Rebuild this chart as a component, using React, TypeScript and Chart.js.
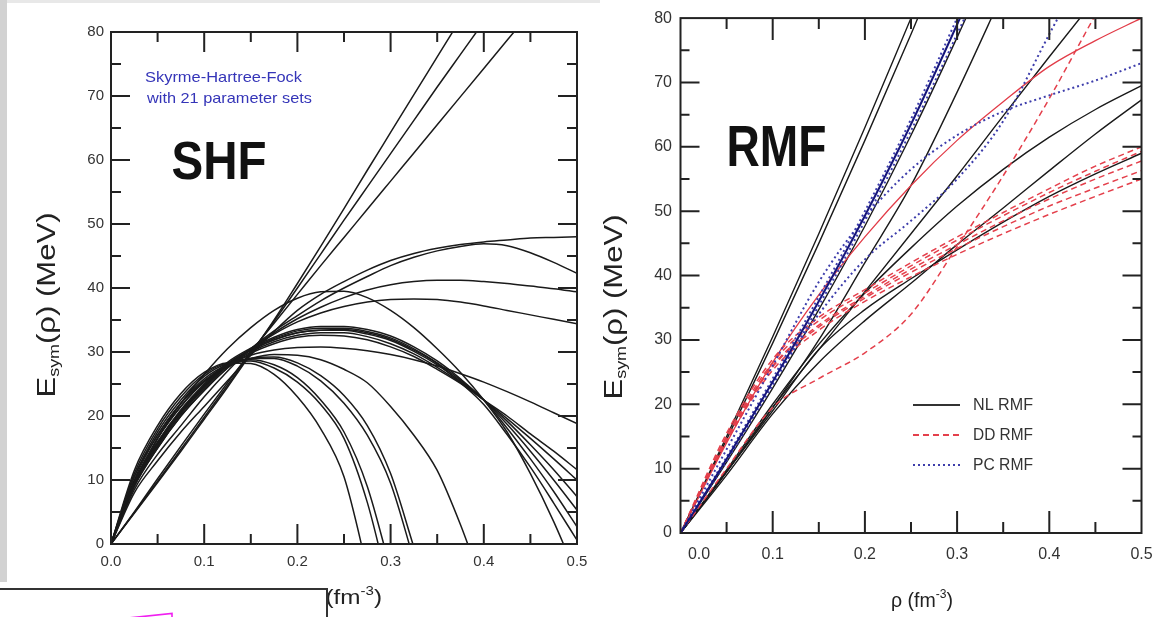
import React, { useEffect, useRef } from "react";
import { Chart, registerables } from "chart.js";
Chart.register(...registerables);

// ---------- SHF panel data (rho grid in fm^-3, Esym in MeV) ----------
const SHF_RHO = [0, 0.025, 0.05, 0.075, 0.1, 0.125, 0.15, 0.175, 0.2, 0.225, 0.25, 0.275, 0.3, 0.325, 0.35, 0.375, 0.4, 0.425, 0.45, 0.475, 0.5];
const SHF_S1 = [0, 4.8, 9.6, 14.5, 19.5, 24.5, 29.7, 35, 40.7, 46.5, 52.4, 58.4, 64.3, 70.2, 76.1, 82];
const SHF_S2 = [0, 4.9, 9.8, 14.8, 19.8, 24.8, 29.8, 34.8, 40, 45.3, 50.6, 55.8, 61, 66.2, 71.4, 76.5, 81.6];
const SHF_S3 = [0, 5, 10.2, 15.3, 20.3, 25.2, 30, 34.5, 39, 43.5, 47.9, 52.3, 56.7, 61.1, 65.5, 69.9, 74.3, 78.7, 83.1];
const SHF_C48 = [0, 8, 13, 17.5, 21.5, 25.5, 29.5, 33.2, 36.5, 39, 41, 42.8, 44.3, 45.4, 46.2, 46.8, 47.2, 47.5, 47.8, 47.9, 48];
const SHF_C47 = [0, 8.5, 14, 18.5, 23, 27, 30.5, 33.3, 35.7, 38, 40, 41.8, 43.5, 44.8, 45.8, 46.5, 46.9, 46.6, 45.5, 44, 42.3];
const SHF_C41 = [0, 9, 15, 20, 24, 27.5, 30.5, 33, 35.2, 37, 38.5, 39.7, 40.5, 41, 41.2, 41.2, 41, 40.7, 40.3, 39.9, 39.4];
const SHF_C38 = [0, 9.5, 15.5, 20.5, 24.5, 27.8, 30.5, 32.8, 34.7, 36.1, 37.1, 37.8, 38.2, 38.3, 38.2, 37.8, 37.2, 36.5, 35.8, 35.1, 34.4];
const SHF_C19 = [0, 10.5, 17, 22, 25.5, 28, 29.5, 30.3, 30.7, 30.8, 30.6, 30.2, 29.6, 28.8, 27.8, 26.6, 25.3, 23.8, 22.2, 20.5, 18.8];
const SHF_U39 = [0, 9.5, 16.5, 22, 26.5, 30.5, 33.8, 36.5, 38.4, 39.4, 39.5, 38.5, 36.5, 33.8, 30.5, 26.8, 22.5, 17.5, 11, 3.5, -5];
const SHF_K1 = [0, 9, 15, 20, 24, 27.5, 29.8, 31.3, 32.3, 32.6, 32.5, 31.9, 30.8, 29.3, 27.3, 25.1, 22.5, 20, 17.2, 14.5, 11.6];
const SHF_K2 = [0, 9.2, 15.3, 20.3, 24.3, 27.8, 30, 31.6, 32.6, 33, 33, 32.4, 31.3, 29.7, 27.6, 25.2, 22.5, 19.6, 16.5, 13.3, 10];
const SHF_K3 = [0, 9.4, 15.6, 20.6, 24.6, 28, 30.2, 31.9, 33, 33.4, 33.4, 32.8, 31.8, 30.1, 28, 25.4, 22.5, 19.2, 15.5, 11.6, 7.4];
const SHF_K4 = [0, 9.6, 15.8, 20.8, 24.8, 28.2, 30.4, 32.1, 33.3, 33.7, 33.7, 33.2, 32.2, 30.5, 28.3, 25.6, 22.5, 18.7, 14.5, 10, 5.3];
const SHF_K5 = [0, 9.8, 16, 21, 25, 28.4, 30.6, 32.3, 33.5, 34, 34, 33.5, 32.5, 30.8, 28.6, 25.8, 22.5, 18.1, 13.3, 8.2, 2.7];
const SHF_K6 = [0, 9.5, 15.7, 20.7, 24.7, 28.1, 30.3, 31.9, 33, 33.4, 33.5, 33, 32, 30.3, 28.2, 25.2, 21.8, 17.1, 12, 6.4, 0.6];
const SHF_D1 = [0, 11.5, 18.5, 23.5, 26.8, 28.3, 28.2, 26.5, 23, 18, 10.5, -4, -20];
const SHF_D2 = [0, 11, 18, 23, 26.5, 28.3, 28.6, 27.5, 25.3, 21.8, 16.5, 6.5, -8];
const SHF_D3 = [0, 10.5, 17.5, 22.5, 26.2, 28.2, 28.8, 28, 26, 22.5, 17.5, 9, -4];
const SHF_D4 = [0, 10, 17, 22, 25.8, 28, 29, 29, 27.8, 25.5, 22, 17, 9.5, -2.5];
const SHF_D5 = [0, 9.5, 16.5, 21.5, 25.5, 27.8, 29, 29.2, 28.3, 26.3, 23.2, 18.5, 11, -0.5];
const SHF_D6 = [0, 9.5, 16.5, 21.5, 25.3, 27.7, 29, 29.6, 29.5, 28.8, 27.3, 25.2, 21.5, 17, 11.5, 3, -7];
const SHF_CURVES = [SHF_S1, SHF_S2, SHF_S3, SHF_C48, SHF_C47, SHF_C41, SHF_C38, SHF_C19, SHF_U39,
  SHF_K1, SHF_K2, SHF_K3, SHF_K4, SHF_K5, SHF_K6, SHF_D1, SHF_D2, SHF_D3, SHF_D4, SHF_D5, SHF_D6];

// ---------- RMF panel data ----------
const RMF_RHO = [0, 0.05, 0.1, 0.15, 0.2, 0.25, 0.3, 0.35, 0.4, 0.45, 0.5];
const NL_1 = [0, 15, 30.5, 46.5, 63, 80, 97];
const NL_2 = [0, 14.5, 29.5, 45, 61, 77.5, 94.5];
const NL_3 = [0, 11, 22.5, 34.7, 47.7, 61.8, 77, 93];
const NL_4 = [0, 9.5, 19.5, 30, 42, 54, 68.5, 84];
const NL_5 = [0, 9.5, 19.5, 28.5, 37.5, 46.5, 55.5, 64.8, 74, 83];
const NL_6 = [0, 9.8, 20, 29.3, 37.3, 44.3, 50.8, 56.5, 61.5, 65.8, 69.5];
const NL_7 = [0, 9, 18.5, 26.5, 33, 38.8, 44.8, 50.5, 56.3, 62, 67.3];
const NL_8 = [0, 9.5, 19, 28.5, 34.7, 39.5, 44, 48.3, 52.3, 55.8, 59];
const NL_CURVES = [NL_1, NL_2, NL_3, NL_4, NL_5, NL_6, NL_7, NL_8];
const DD_1 = [0, 15.5, 27, 33.5, 37.8, 42, 46, 49.8, 53.5, 57, 60];
const DD_2 = [0, 15, 26.5, 33, 37.3, 41.5, 45.5, 49.3, 52.9, 56.2, 59.3];
const DD_3 = [0, 14.8, 26, 32.3, 36.8, 41, 44.8, 48.5, 51.9, 55, 57.8];
const DD_4 = [0, 14.5, 25.8, 32, 36.5, 40.5, 44.2, 47.6, 50.8, 53.6, 56.3];
const DD_5 = [0, 14.2, 25.3, 31.5, 36, 39.8, 43.3, 46.5, 49.5, 52.3, 55];
const DD_6 = [0, 10, 19.5, 24, 28, 34, 44.5, 55.5, 67.5, 80.5, 93];
const DD_CURVES = [DD_1, DD_2, DD_3, DD_4, DD_5, DD_6];
const RED_SOLID = [0, 14, 26.5, 37, 46, 54, 61, 67, 72.5, 76.5, 80];
const PC_1 = [0, 11.8, 24, 36.7, 50, 64.3, 80, 96];
const PC_2 = [0, 11.2, 23, 35.3, 48.5, 62.5, 77.5, 93];
const PC_3 = [0, 13, 26, 39, 49, 56.5, 61.8, 65.5, 68, 70.3, 73];
const PC_4 = [0, 11.5, 23.5, 34, 42.5, 48.5, 55, 64, 77.5, 91];
const PC_CURVES = [PC_1, PC_2, PC_3, PC_4];
const PC_SOLID = [0, 11.5, 23.5, 36, 49.3, 63.5, 79, 95];

const LEGEND_LABELS = ["NL RMF", "DD RMF", "PC RMF"];

const FONT = "'Liberation Sans', Arial, Helvetica, sans-serif";

function toPoints(xs: number[], ys: (number | null)[]) {
  const out: { x: number; y: number }[] = [];
  ys.forEach((y, i) => { if (y !== null && i < xs.length) out.push({ x: xs[i], y }); });
  return out;
}

type Part = { t: string; size: number; bold?: boolean; italic?: boolean; dy?: number };
function fontOf(p: Part) {
  return `${p.italic ? "italic " : ""}${p.bold ? "bold " : ""}${p.size}px ${FONT}`;
}
function drawParts(ctx: CanvasRenderingContext2D, parts: Part[], x: number, y: number,
  o: { align?: "center" | "left"; rotate?: number; width?: number; color?: string }) {
  ctx.save();
  let total = 0;
  const ws = parts.map((p) => { ctx.font = fontOf(p); const w = ctx.measureText(p.t).width; total += w; return w; });
  const sx = o.width ? o.width / total : 1;
  ctx.translate(x, y);
  if (o.rotate) ctx.rotate(o.rotate);
  ctx.scale(sx, 1);
  ctx.fillStyle = o.color || "#222";
  ctx.textBaseline = "middle";
  ctx.textAlign = "left";
  let cx = o.align === "left" ? 0 : -total / 2;
  parts.forEach((p, i) => { ctx.font = fontOf(p); ctx.fillText(p.t, cx, p.dy || 0); cx += ws[i]; });
  ctx.restore();
}

function drawFrame(chart: any, xMaj: number, xMin: number, yMaj: number, yMin: number) {
  const { ctx, chartArea: a, scales } = chart;
  const xs = scales.x, ys = scales.y;
  ctx.save();
  ctx.strokeStyle = "#222";
  ctx.lineWidth = 2;
  ctx.beginPath();
  for (let i = 1; i < 10; i++) {
    const px = xs.getPixelForValue(i * 0.05);
    const L = i % 2 === 0 ? xMaj : xMin;
    ctx.moveTo(px, a.bottom); ctx.lineTo(px, a.bottom - L);
    ctx.moveTo(px, a.top); ctx.lineTo(px, a.top + L);
  }
  for (let i = 1; i < 16; i++) {
    const py = ys.getPixelForValue(i * 5);
    const L = i % 2 === 0 ? yMaj : yMin;
    ctx.moveTo(a.left, py); ctx.lineTo(a.left + L, py);
    ctx.moveTo(a.right, py); ctx.lineTo(a.right - L, py);
  }
  ctx.stroke();
  ctx.strokeRect(a.left, a.top, a.right - a.left, a.bottom - a.top);
  ctx.restore();
}

function yTitle(ctx: CanvasRenderingContext2D, x: number, y: number) {
  drawParts(ctx, [
    { t: "E", size: 26 },
    { t: "sym", size: 15, dy: 7 },
    { t: "(ρ) (MeV)", size: 26 },
  ], x, y, { rotate: -Math.PI / 2, width: 185, color: "#222" });
}
function xTitleParts(): Part[] {
  return [
    { t: "ρ (fm", size: 21 },
    { t: "-3", size: 13, dy: -7 },
    { t: ")", size: 21 },
  ];
}

function axisScales(W: number, H: number, fontSize: number, xPad: number, yPad: number, hideZero: boolean) {
  return {
    x: {
      type: "linear", min: 0, max: 0.5,
      afterFit: (s: any) => { s.height = H; },
      grid: { display: false, drawTicks: false },
      border: { display: false },
      ticks: {
        stepSize: 0.1, padding: xPad, maxRotation: 0, autoSkip: false,
        color: "#333", font: { family: FONT, size: fontSize },
        callback: (v: any) => (hideZero && Math.abs(Number(v)) < 1e-9 ? "" : Number(v).toFixed(1)),
      },
    },
    y: {
      type: "linear", min: 0, max: 80,
      afterFit: (s: any) => { s.width = W; },
      grid: { display: false, drawTicks: false },
      border: { display: false },
      ticks: { stepSize: 10, padding: yPad, color: "#333", font: { family: FONT, size: fontSize } },
    },
  };
}

const lineBase = { pointRadius: 0, fill: false, cubicInterpolationMode: "monotone" as const };

export default function App() {
  const leftRef = useRef<HTMLCanvasElement>(null);
  const rightRef = useRef<HTMLCanvasElement>(null);

  useEffect(() => {
    const lc = leftRef.current!, rc = rightRef.current!;
    const leftChart = new Chart(lc, {
      type: "line",
      data: {
        datasets: SHF_CURVES.map((c) => ({
          ...lineBase, data: toPoints(SHF_RHO, c), borderColor: "#1a1a1a", borderWidth: 1.5,
        })),
      },
      options: {
        animation: false, responsive: false, maintainAspectRatio: false, events: [],
        layout: { padding: { left: 111 - 60, top: 32, right: 600 - 577, bottom: 617 - 544 - 40 } },
        plugins: { legend: { display: false }, tooltip: { enabled: false } },
        scales: axisScales(60, 40, 15, 9, 7, false) as any,
      },
      plugins: [{
        id: "shfDecor",
        beforeDraw(chart: any) {
          const ctx = chart.ctx;
          ctx.save();
          ctx.fillStyle = "#d2d2d2";
          ctx.fillRect(0, 0, 7, 582);
          ctx.fillStyle = "#e8e8e8";
          ctx.fillRect(7, 0, 593, 3);
          ctx.restore();
        },
        afterDatasetsDraw(chart: any) { drawFrame(chart, 20, 10, 19, 10); },
        afterDraw(chart: any) {
          const ctx = chart.ctx;
          drawParts(ctx, [{ t: "Skyrme-Hartree-Fock", size: 15 }], 145, 78, { align: "left", width: 157, color: "#3535b8" });
          drawParts(ctx, [{ t: "with 21 parameter sets", size: 15 }], 147, 99, { align: "left", width: 165, color: "#3535b8" });
          drawParts(ctx, [{ t: "SHF", size: 54, bold: true }], 219, 164, { width: 95, color: "#111" });
          yTitle(ctx, 48, 305);
          drawParts(ctx, xTitleParts(), 305, 598, { align: "left", width: 77, color: "#222" });
          // overlaid white box at bottom-left
          ctx.save();
          ctx.fillStyle = "#fff";
          ctx.fillRect(-2, 589, 329, 30);
          ctx.strokeStyle = "#333";
          ctx.lineWidth = 2;
          ctx.strokeRect(-2, 589, 329, 32);
          ctx.strokeStyle = "#f020f0";
          ctx.lineWidth = 1.6;
          ctx.beginPath();
          ctx.moveTo(128, 618);
          ctx.lineTo(172, 613.5);
          ctx.lineTo(172, 618);
          ctx.stroke();
          ctx.restore();
        },
      }],
    } as any);

    const solid = (c: (number | null)[], color: string, w: number, dash: number[] = []) => ({
      ...lineBase, data: toPoints(RMF_RHO, c), borderColor: color, borderWidth: w, borderDash: dash,
    });
    const rightDatasets = [
      solid(PC_SOLID, "#16167a", 2),
      ...PC_CURVES.map((c) => solid(c, "#3d3dab", 2, [2, 3])),
      solid(RED_SOLID, "#e23c48", 1.3),
      ...DD_CURVES.map((c) => solid(c, "#e4404c", 1.5, [6, 4])),
      ...NL_CURVES.map((c) => solid(c, "#1a1a1a", 1.4)),
    ];
    const rightChart = new Chart(rc, {
      type: "line",
      data: { datasets: rightDatasets },
      options: {
        animation: false, responsive: false, maintainAspectRatio: false, events: [],
        layout: { padding: { left: 80.5 - 60, top: 14, right: 573 - 541.5, bottom: 617 - 533 - 40 } },
        plugins: { legend: { display: false }, tooltip: { enabled: false } },
        scales: axisScales(60, 40, 16, 12, 8.5, true) as any,
      },
      plugins: [{
        id: "rmfDecor",
        afterDatasetsDraw(chart: any) { drawFrame(chart, 22, 11, 19, 9); },
        afterDraw(chart: any) {
          const ctx = chart.ctx;
          ctx.save();
          ctx.font = `16px ${FONT}`;
          ctx.fillStyle = "#333";
          ctx.textAlign = "center";
          ctx.textBaseline = "middle";
          ctx.fillText(Number(0).toFixed(1), 99, 555);
          ctx.restore();
          drawParts(ctx, [{ t: "RMF", size: 57, bold: true }], 176.5, 150, { width: 100, color: "#111" });
          yTitle(ctx, 15, 307);
          drawParts(ctx, xTitleParts(), 322, 601, { width: 62, color: "#222" });
          // legend
          const styles = [
            { color: "#333", dash: [] as number[], w: 2 },
            { color: "#e4404c", dash: [6, 4], w: 2 },
            { color: "#3d3dab", dash: [2, 3], w: 2.2 },
          ];
          const ys = [405, 435, 465];
          LEGEND_LABELS.forEach((lab, i) => {
            ctx.save();
            ctx.strokeStyle = styles[i].color;
            ctx.lineWidth = styles[i].w;
            ctx.setLineDash(styles[i].dash);
            ctx.beginPath();
            ctx.moveTo(313, ys[i]);
            ctx.lineTo(360, ys[i]);
            ctx.stroke();
            ctx.restore();
            drawParts(ctx, [{ t: lab, size: 17 }], 373, ys[i], { align: "left", width: 60, color: "#333" });
          });
        },
      }],
    } as any);

    return () => { leftChart.destroy(); rightChart.destroy(); };
  }, []);

  return (
    <div style={{ position: "fixed", left: 0, top: 0, width: 1153, height: 617, overflow: "hidden", background: "#fff" }}>
      <canvas ref={leftRef} width={600} height={617} style={{ position: "absolute", left: 0, top: 0, width: 600, height: 617 }} />
      <canvas ref={rightRef} width={573} height={617} style={{ position: "absolute", left: 600, top: 0, width: 573, height: 617 }} />
    </div>
  );
}
